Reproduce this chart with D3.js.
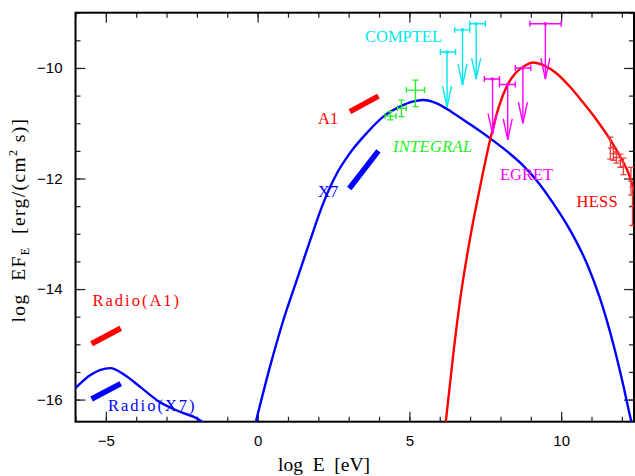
<!DOCTYPE html>
<html>
<head>
<meta charset="utf-8">
<script src="https://cdn.jsdelivr.net/npm/d3@7"></script>
<style>
  body { margin: 0; background: #fff; }
  svg { display: block; }
  .tick text { font-family: "Liberation Sans", Arial, sans-serif; font-size: 15px; fill: #000; }
  .lbl { font-family: "Liberation Serif", "Times New Roman", serif; }
</style>
</head>
<body>
<div class="sed-chart"></div>
<script>
// model curves: [log E (eV), log EF_E]
const blueLow = [[-6.2, -15.9], [-5.96, -15.77], [-5.52, -15.56], [-4.86, -15.43], [-4.37, -15.56], [-3.87, -15.77],
  [-3.32, -16.01], [-2.56, -16.22], [-2.0, -16.34], [-1.7, -16.45]];
const blueMain = [[-0.08, -16.45], [0.41, -15.40], [0.85, -14.56], [1.29, -13.84], [1.73, -13.12], [2.16, -12.45],
  [2.61, -11.91], [3.04, -11.54], [3.59, -11.18], [4.14, -10.88], [4.69, -10.70], [5.1, -10.61], [5.46, -10.58],
  [5.9, -10.64], [6.4, -10.80], [7.0, -11.02], [7.6, -11.25], [8.2, -11.50], [8.7, -11.74], [9.2, -12.04],
  [9.74, -12.45], [10.29, -12.93], [10.84, -13.53], [11.28, -14.17], [11.72, -15.0], [12.05, -15.75],
  [12.3, -16.37], [12.36, -16.5]];
const redMain = [[6.19, -16.45], [6.45, -15.16], [6.67, -14.20], [6.99, -13.11], [7.33, -12.15], [7.66, -11.30],
  [7.95, -10.70], [8.2, -10.34], [8.5, -10.09], [8.8, -9.96], [9.08, -9.90], [9.41, -9.95], [9.85, -10.10],
  [10.29, -10.34], [10.73, -10.63], [11.17, -10.94], [11.61, -11.29], [12.0, -11.66], [12.2, -11.88], [12.4, -12.22]];

// thick segments (radio / X-ray)
const radioA1 = [[-5.47, -14.99], [-4.51, -14.71]];
const radioX7 = [[-5.47, -15.99], [-4.51, -15.71]];
const xrayA1 = [[3.04, -10.79], [3.98, -10.51]];
const xrayX7 = [[3.02, -12.18], [3.98, -11.50]];

// INTEGRAL
const integralE = [4.37, 4.74, 5.2];
const integralELo = [4.2, 4.61, 4.9];
const integralEHi = [4.56, 4.9, 5.5];
const integralF = [-10.87, -10.73, -10.40];
const integralFLo = [-10.94, -10.88, -10.70];
const integralFHi = [-10.79, -10.58, -10.22];

// COMPTEL upper limits
const comptelE = [6.24, 6.75, 7.2];
const comptelELo = [6.02, 6.49, 6.99];
const comptelEHi = [6.52, 6.99, 7.5];
const comptelF = [-9.71, -9.31, -9.20];

// EGRET upper limits
const egretE = [7.74, 8.24, 8.74, 9.48];
const egretELo = [7.47, 7.97, 8.49, 8.97];
const egretEHi = [7.97, 8.49, 9.0, 10.0];
const egretF = [-10.2, -10.3, -10.0, -9.2];

// HESS
const hessE = [11.62, 11.72, 11.82, 11.95, 12.05, 12.3, 12.35];
const hessF = [-11.45, -11.55, -11.62, -11.68, -11.78, -12.05, -12.5];
const hessErr = [0.2, 0.12, 0.1, 0.12, 0.15, 0.25, 0.35];

const xMajor = [-5, 0, 5, 10];
const xMinor = d3.range(-6, 13, 1);
const yMajor = [-16, -14, -12, -10];
const yMinor = d3.range(-16, -8.9, 0.5);

const W = 635, H = 476;
const margin = { top: 12.7, right: 1, bottom: 54.3, left: 75.5 };
const width = W - margin.left - margin.right;
const height = H - margin.top - margin.bottom;

const x = d3.scaleLinear().domain([-6, 12.4]).range([0, width]);
const y = d3.scaleLinear().domain([-16.4, -9]).range([height, 0]);

const svg = d3.select('.sed-chart').append('svg')
  .attr('width', W)
  .attr('height', H);

svg.append('defs').append('clipPath')
  .attr('id', 'plot-clip')
  .append('rect')
  .attr('width', width)
  .attr('height', height);

const g = svg.append('g')
  .attr('transform', `translate(${margin.left},${margin.top})`);

// ticks, all pointing inward
function ticks(axisFn, vals, size, fmt, transform) {
  const a = g.append('g')
    .attr('transform', transform)
    .call(axisFn.tickValues(vals).tickSize(-size).tickPadding(size + 8).tickFormat(fmt));
  a.select('.domain').remove();
  a.selectAll('line').attr('stroke', '#222').attr('stroke-width', 1.2);
  return a;
}
const none = () => '';
ticks(d3.axisBottom(x), xMinor, 5, none, `translate(0,${height})`);
ticks(d3.axisBottom(x), xMajor, 10, d3.format('d'), `translate(0,${height})`)
  .selectAll('text').attr('dy', '0.71em').attr('y', 14);
ticks(d3.axisTop(x), xMinor, 5, none, 'translate(0,0)');
ticks(d3.axisTop(x), xMajor, 10, none, 'translate(0,0)');
ticks(d3.axisLeft(y), yMinor, 5, none, 'translate(0,0)');
ticks(d3.axisLeft(y), yMajor, 10, d3.format('d'), 'translate(0,0)')
  .selectAll('text').attr('x', -13);
ticks(d3.axisRight(y), yMinor, 5, none, `translate(${width},0)`);
ticks(d3.axisRight(y), yMajor, 10, none, `translate(${width},0)`);

// frame
g.append('rect')
  .attr('width', width)
  .attr('height', height)
  .attr('fill', 'none')
  .attr('stroke', '#000')
  .attr('stroke-width', 2);

const plot = g.append('g').attr('clip-path', 'url(#plot-clip)');

const line = d3.line()
  .x(d => x(d[0]))
  .y(d => y(d[1]))
  .curve(d3.curveMonotoneX);

plot.append('path').datum(blueLow).attr('d', line)
  .attr('fill', 'none').attr('stroke', '#0000ff').attr('stroke-width', 2.4);
plot.append('path').datum(blueMain).attr('d', line)
  .attr('fill', 'none').attr('stroke', '#0000ff').attr('stroke-width', 2.4);
plot.append('path').datum(redMain).attr('d', line)
  .attr('fill', 'none').attr('stroke', '#ff0000').attr('stroke-width', 2.4);

const seg = d3.line().x(d => x(d[0])).y(d => y(d[1]));
[[radioA1, '#ff0000'], [radioX7, '#0000ff'], [xrayA1, '#ff0000'], [xrayX7, '#0000ff']].forEach(([d, c]) => {
  plot.append('path').datum(d).attr('d', seg)
    .attr('stroke', c).attr('stroke-width', 5.5).attr('fill', 'none');
});

// upper limits with horizontal bars and open arrows
function upperLimits(E, ELo, EHi, F, color) {
  E.forEach((e, i) => {
    const cx = x(e), cy = y(F[i]);
    const ty = y(F[i] - 1);
    const u = plot.append('g').attr('stroke', color).attr('stroke-width', 1.4).attr('fill', 'none');
    u.append('line').attr('x1', x(ELo[i])).attr('x2', x(EHi[i])).attr('y1', cy).attr('y2', cy);
    u.append('line').attr('x1', x(ELo[i])).attr('x2', x(ELo[i])).attr('y1', cy - 3).attr('y2', cy + 3);
    u.append('line').attr('x1', x(EHi[i])).attr('x2', x(EHi[i])).attr('y1', cy - 3).attr('y2', cy + 3);
    u.append('line').attr('x1', cx).attr('x2', cx).attr('y1', cy).attr('y2', ty);
    u.append('path').attr('d', `M${cx - 4.5},${ty - 21}L${cx},${ty}L${cx + 4.5},${ty - 21}`);
    u.append('rect').attr('x', cx - 1.5).attr('y', cy - 1.5).attr('width', 3).attr('height', 3)
      .attr('fill', color).attr('stroke', 'none');
  });
}
upperLimits(comptelE, comptelELo, comptelEHi, comptelF, '#00e8f0');
upperLimits(egretE, egretELo, egretEHi, egretF, '#ff00ff');

// INTEGRAL crosses
integralE.forEach((e, i) => {
  const u = plot.append('g').attr('stroke', '#22ee22').attr('stroke-width', 1.3);
  const cy = y(integralF[i]), cx = x(e);
  u.append('line').attr('x1', x(integralELo[i])).attr('x2', x(integralEHi[i])).attr('y1', cy).attr('y2', cy);
  u.append('line').attr('x1', cx).attr('x2', cx).attr('y1', y(integralFLo[i])).attr('y2', y(integralFHi[i]));
  [integralELo[i], integralEHi[i]].forEach(v => {
    u.append('line').attr('x1', x(v)).attr('x2', x(v)).attr('y1', cy - 3).attr('y2', cy + 3);
  });
  [integralFLo[i], integralFHi[i]].forEach(v => {
    u.append('line').attr('x1', cx - 3).attr('x2', cx + 3).attr('y1', y(v)).attr('y2', y(v));
  });
});

// HESS points
hessE.forEach((e, i) => {
  const u = plot.append('g').attr('stroke', '#f03c3c').attr('stroke-width', 1.3);
  const cx = x(e), cy = y(hessF[i]);
  const y1 = y(hessF[i] + hessErr[i]), y2 = y(hessF[i] - hessErr[i]);
  u.append('line').attr('x1', cx).attr('x2', cx).attr('y1', y1).attr('y2', y2);
  u.append('line').attr('x1', cx - 3).attr('x2', cx + 3).attr('y1', y1).attr('y2', y1);
  u.append('line').attr('x1', cx - 3).attr('x2', cx + 3).attr('y1', y2).attr('y2', y2);
  u.append('line').attr('x1', cx - 2.5).attr('x2', cx + 2.5).attr('y1', cy).attr('y2', cy);
});

// annotations
const notes = [
  ['Radio(A1)', 92.5, 306, '#ff0000', 'normal', 2],
  ['Radio(X7)', 108, 411, '#0000ff', 'normal', 2],
  ['A1', 318, 124, '#ff0000', 'normal', 0],
  ['X7', 318, 196.5, '#0000ff', 'normal', 0],
  ['INTEGRAL', 393, 151.5, '#22ee22', 'italic', 0.3],
  ['COMPTEL', 365, 42, '#00e8f0', 'normal', 0],
  ['EGRET', 500, 179.5, '#ff00ff', 'normal', 0],
  ['HESS', 576.5, 207, '#ff0000', 'normal', 0.3],
];
notes.forEach(([t, tx, ty, c, st, ls]) => {
  svg.append('text').attr('class', 'lbl')
    .attr('x', tx).attr('y', ty)
    .attr('fill', c)
    .attr('font-size', 16.5)
    .attr('font-style', st)
    .attr('letter-spacing', ls)
    .text(t);
});

// axis titles
svg.append('text').attr('class', 'lbl')
  .attr('x', 324).attr('y', 471)
  .attr('text-anchor', 'middle')
  .attr('font-size', 19.5)
  .attr('xml:space', 'preserve')
  .text('log  E  [eV]');

const yl = svg.append('text').attr('class', 'lbl')
  .attr('transform', 'translate(25,220) rotate(-90)')
  .attr('text-anchor', 'middle')
  .attr('font-size', 19.5)
  .attr('letter-spacing', 1.4)
  .attr('xml:space', 'preserve');
yl.append('tspan').text('log  EF');
yl.append('tspan').attr('font-size', 12).attr('dy', 4).text('E');
yl.append('tspan').attr('dy', -4).text('  [erg/(cm');
yl.append('tspan').attr('font-size', 12).attr('dy', -8).text('2');
yl.append('tspan').attr('dy', 8).text(' s)]');
</script>
</body>
</html>
